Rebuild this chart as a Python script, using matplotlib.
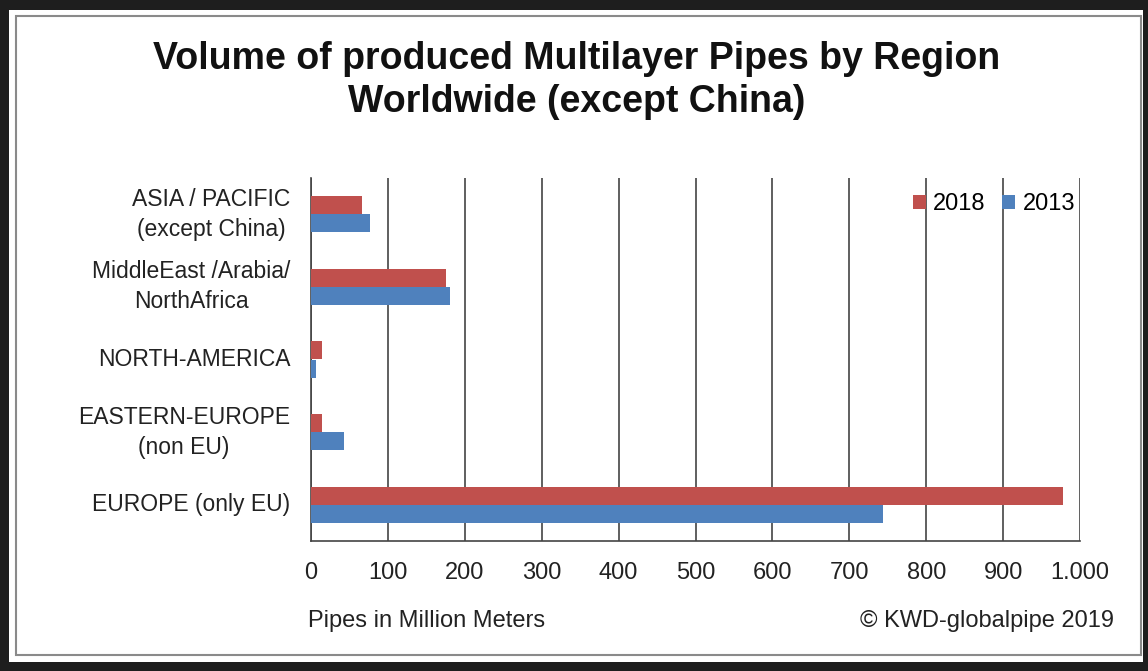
import matplotlib.pyplot as plt
import matplotlib.patches as mpatches
import numpy as np

plt.rcParams['font.family'] = ['Liberation Sans', 'DejaVu Sans']

# data (million meters)
regions = ['ASIA / PACIFIC\n(except China)', 'MiddleEast /Arabia/\nNorthAfrica',
           'NORTH-AMERICA', 'EASTERN-EUROPE\n(non EU)', 'EUROPE (only EU)']
vals_2018 = [66, 176, 14, 14, 978]
vals_2013 = [77, 181, 6, 43, 744]
xticks = [0, 100, 200, 300, 400, 500, 600, 700, 800, 900, 1000]
xtick_labels = ['0', '100', '200', '300', '400', '500', '600', '700', '800', '900', '1.000']

red = '#C0504D'
blue = '#4F81BD'
fs = 17

fig = plt.figure(figsize=(11.48, 6.71), dpi=100)
W, H = 1148, 671

# outer dark border + inner grey frame
fig.patches.append(mpatches.Rectangle((0, 0), 1, 1, transform=fig.transFigure,
                                      facecolor='#1e1e1e', edgecolor='none', zorder=-3))
fig.patches.append(mpatches.Rectangle((9 / W, 9 / H), 1 - 14 / W, 1 - 19 / H, transform=fig.transFigure,
                                      facecolor='white', edgecolor='none', zorder=-2))
fig.patches.append(mpatches.Rectangle((16 / W, 16 / H), 1 - 23 / W, 1 - 32 / H, transform=fig.transFigure,
                                      facecolor='none', edgecolor='#8a8a8a', lw=1.5, zorder=-1))

# plot area: x 311..1080, y 178..541 (pixels from top)
ax = fig.add_axes([311 / W, 1 - 541 / H, (1080 - 311) / W, (541 - 178) / H])

y = np.arange(len(regions))
h = 0.25
ax.barh(y - h / 2, vals_2018, height=h, color=red, label='2018', zorder=3)
ax.barh(y + h / 2, vals_2013, height=h, color=blue, label='2013', zorder=3)

ax.set_ylim(len(regions) - 0.5, -0.5)
ax.set_xlim(0, 1000)
ax.set_xticks(xticks)
ax.set_xticklabels(xtick_labels, fontsize=fs, color='#222222')
ax.set_yticks(y)
ax.set_yticklabels(regions, fontsize=16.5, color='#222222', multialignment='center',
                   linespacing=1.4, va='center')
ax.tick_params(axis='y', length=0, pad=15)
ax.tick_params(axis='x', length=0, pad=15)
ax.grid(axis='x', color='#444444', lw=1.2, zorder=1)
for s in ['top', 'right']:
    ax.spines[s].set_visible(False)
for s in ['left', 'bottom']:
    ax.spines[s].set_color('#444444')
    ax.spines[s].set_linewidth(1.2)

leg = ax.legend(loc='upper right', bbox_to_anchor=(1.018, 1.01), ncol=2, frameon=False,
                fontsize=fs, handlelength=0.55, handleheight=0.55, handletextpad=0.3,
                columnspacing=0.7, borderpad=0.3)

fig.text(577 / W, 1 - 59 / H, 'Volume of produced Multilayer Pipes by Region',
         ha='center', va='center', fontsize=27, fontweight='bold', color='#111111')
fig.text(577 / W, 1 - 102 / H, 'Worldwide (except China)',
         ha='center', va='center', fontsize=27, fontweight='bold', color='#111111')

fig.text(308 / W, 1 - 621 / H, 'Pipes in Million Meters', ha='left', va='center',
         fontsize=fs, color='#222222')
fig.text(1114 / W, 1 - 621 / H, '© KWD-globalpipe 2019', ha='right', va='center',
         fontsize=fs, color='#222222')

fig.savefig('out.png', dpi=100)
